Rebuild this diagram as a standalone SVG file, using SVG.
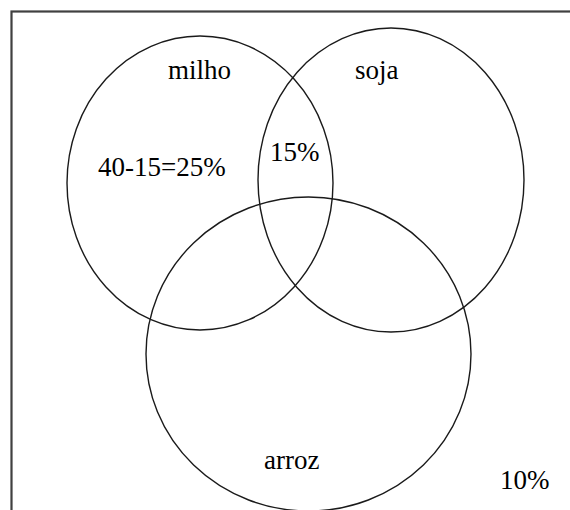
<svg xmlns="http://www.w3.org/2000/svg" width="570" height="510" viewBox="0 0 570 510">
<style>
.set{fill:none;stroke:#1a1a1a;stroke-width:1.4}
.lbl{font-family:'Liberation Serif','Times New Roman',serif;font-size:27px;fill:#000}
</style>
<rect width="570" height="510" fill="#fff"/>
<rect x="11.5" y="11.5" width="600" height="560" fill="none" stroke="#404040" stroke-width="2.2"/>
<g id="milho">
<ellipse class="set" cx="200" cy="183" rx="133" ry="147"/>
<text class="lbl" x="168" y="79">milho</text>
<text class="lbl" x="98" y="176">40-15=25%</text>
</g>
<g id="soja">
<ellipse class="set" cx="391" cy="180" rx="133" ry="152"/>
<text class="lbl" x="355" y="79">soja</text>
</g>
<g id="arroz">
<ellipse class="set" cx="308.5" cy="354" rx="162.5" ry="157"/>
<text class="lbl" x="264" y="469">arroz</text>
</g>
<g id="intersection">
<text class="lbl" x="270" y="161">15%</text>
</g>
<g id="outside">
<text class="lbl" x="500" y="489">10%</text>
</g>
</svg>
